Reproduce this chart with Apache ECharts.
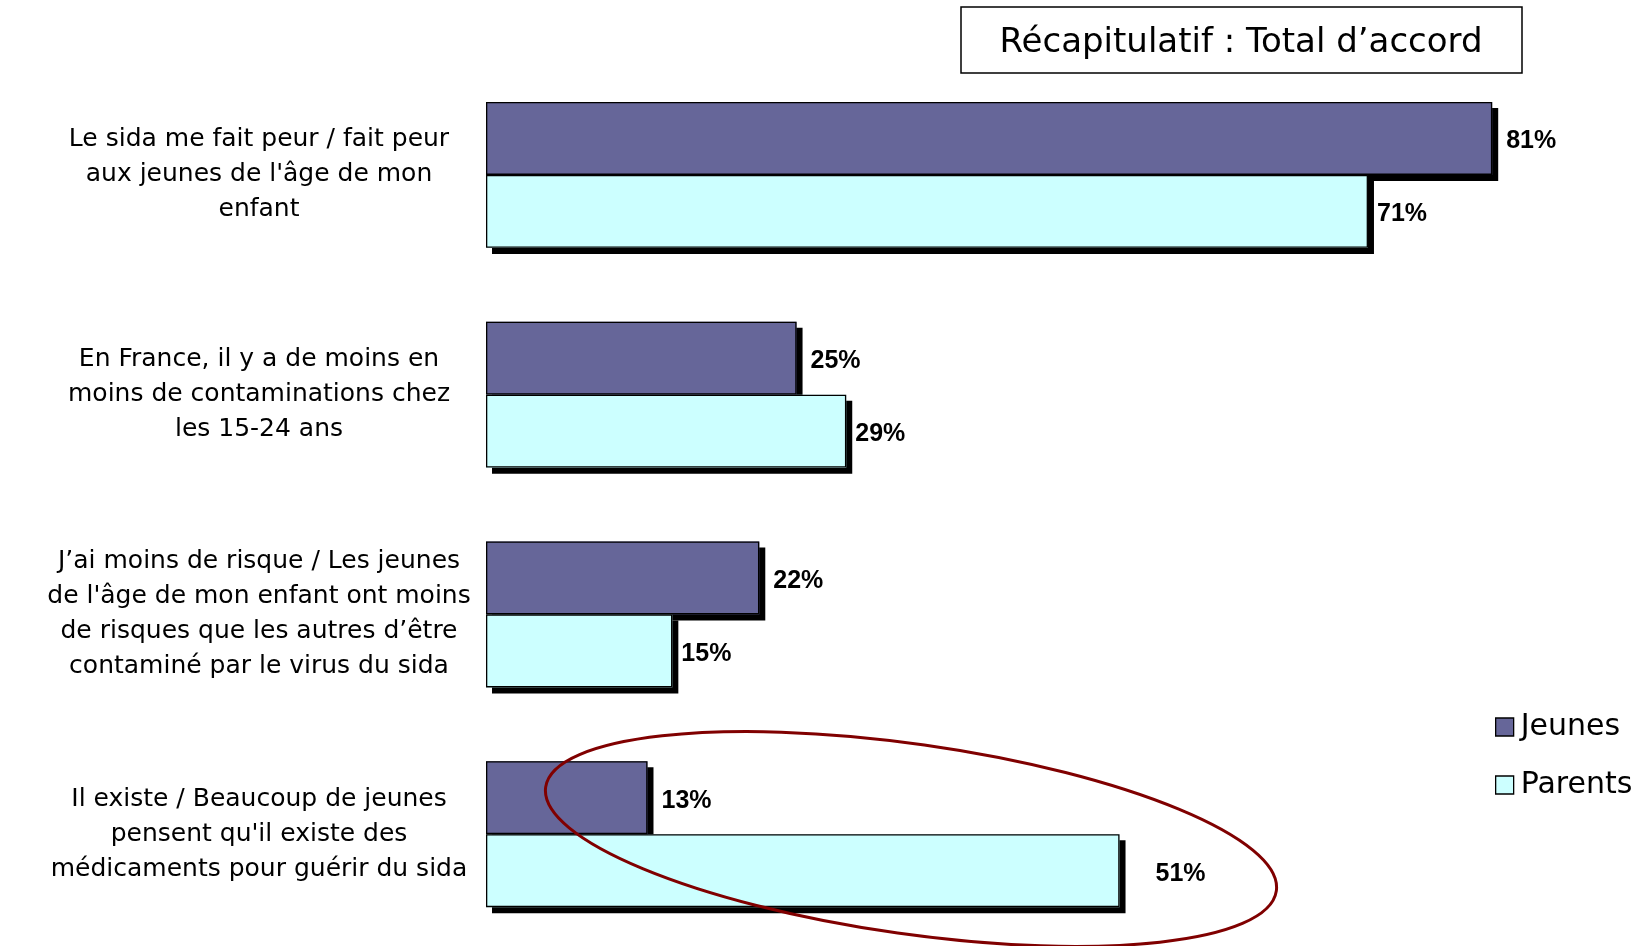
<!DOCTYPE html>
<html><head><meta charset="utf-8">
<script src="https://cdn.jsdelivr.net/npm/echarts@6/dist/echarts.min.js"></script>
<style>html,body{margin:0;padding:0;background:#fff}#c{width:1650px;height:946px}</style>
</head><body><div id="c"></div>
<script>
const categories = [
  "Le sida me fait peur / fait peur\naux jeunes de l'âge de mon\nenfant",
  "En France, il y a de moins en\nmoins de contaminations chez\nles 15-24 ans",
  "J’ai moins de risque / Les jeunes\nde l'âge de mon enfant ont moins\nde risques que les autres d’être\ncontaminé par le virus du sida",
  "Il existe / Beaucoup de jeunes\npensent qu'il existe des\nmédicaments pour guérir du sida"
];
const seriesNames = ["Jeunes", "Parents"];
const jeunes = [81, 25, 22, 13];
const parents = [71, 29, 15, 51];
const titleText = "Récapitulatif : Total d’accord";

const chart = echarts.init(document.getElementById('c'));
const labelFont = "'Liberation Sans Narrow', 'Arial Narrow', 'Liberation Sans', sans-serif";
const textFont = "'DejaVu Sans', sans-serif";
const colors = ['#666699', '#CCFFFF'];
function mkLabel(dist) {
  return {show: true, position: 'right', distance: dist, offset: [0, 3], formatter: '{c}%',
    fontFamily: labelFont, fontWeight: 'bold', fontSize: 25, color: '#000'};
}
const shadowStyle = {borderWidth: 0, shadowColor: '#000', shadowBlur: 0, shadowOffsetX: 6, shadowOffsetY: 6};
const borderStyle = {color: 'rgba(0,0,0,0)', borderColor: '#000', borderWidth: 1.3};
const hiddenCat = {type: 'category', data: categories, inverse: true, show: false};
chart.setOption({
  animation: false,
  grid: {left: 486, right: 46, top: 65, bottom: 2, containLabel: false},
  xAxis: {type: 'value', min: 0, max: 90, show: false},
  yAxis: [
    {type: 'category', data: categories, inverse: true,
     axisLine: {show: false}, axisTick: {show: false}, splitLine: {show: false},
     axisLabel: {margin: 227, align: 'center', fontFamily: textFont, fontSize: 25, lineHeight: 35, color: '#000', padding: [8, 0, 0, 0]}},
    hiddenCat
  ],
  legend: {orient: 'vertical', left: 1490, top: 707, itemWidth: 18, itemHeight: 18, itemGap: 28,
    icon: 'rect', textStyle: {fontFamily: textFont, fontSize: 30, color: '#000', padding: [0, 0, 0, 2]},
    data: seriesNames.map((n, i) => ({name: n, itemStyle: {color: colors[i], borderColor: '#000', borderWidth: 1.3}}))},
  series: [
    {name: seriesNames[0], type: 'bar', yAxisIndex: 0, data: jeunes, barWidth: 73, barGap: '0%',
     itemStyle: Object.assign({color: colors[0]}, shadowStyle)},
    {name: seriesNames[1], type: 'bar', yAxisIndex: 0, data: parents, barWidth: 73, barGap: '0%',
     itemStyle: Object.assign({color: colors[1]}, shadowStyle)},
    {name: seriesNames[0] + '_border', type: 'bar', yAxisIndex: 1, data: jeunes, barWidth: 73, barGap: '0%',
     itemStyle: borderStyle, label: mkLabel(14), z: 3},
    {name: seriesNames[1] + '_border', type: 'bar', yAxisIndex: 1, barWidth: 73, barGap: '0%',
     data: parents.map((v, i) => i === 3 ? {value: v, label: {distance: 36}} : v),
     itemStyle: borderStyle, label: mkLabel(9), z: 3}
  ],
  graphic: [
    {type: 'rect', shape: {x: 961, y: 7, width: 561, height: 66}, style: {fill: '#fff', stroke: '#000', lineWidth: 1.5}, z: 10},
    {type: 'text', x: 1241, y: 43, style: {text: titleText, fontFamily: textFont, fontSize: 34, fill: '#000', align: 'center', verticalAlign: 'middle'}, z: 11},
    {type: 'ellipse', x: 911, y: 839, rotation: -0.141, shape: {cx: 0, cy: 0, rx: 369, ry: 95},
     style: {fill: null, stroke: '#800000', lineWidth: 3}, z: 20}
  ]
});
</script></body></html>
